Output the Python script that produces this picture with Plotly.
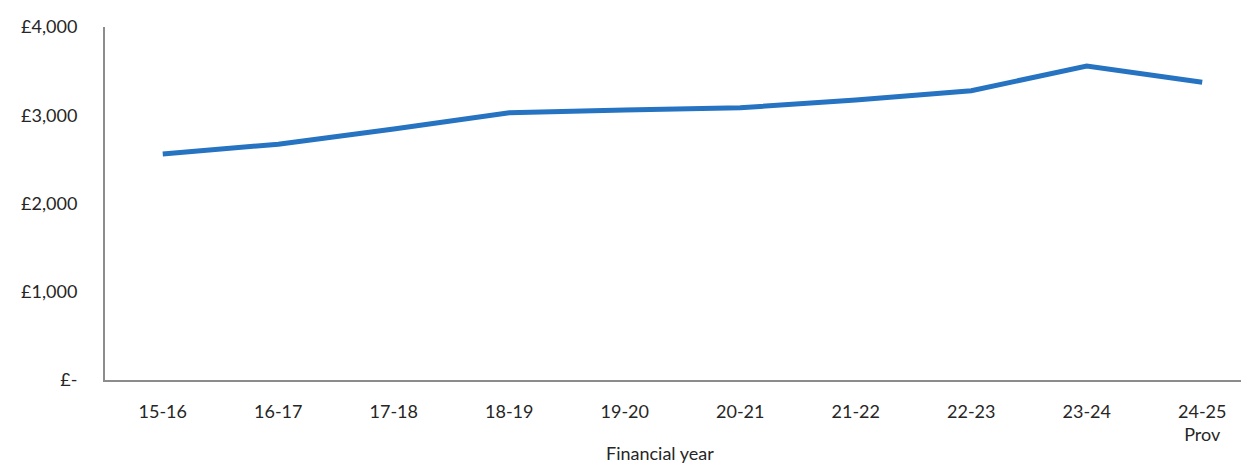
import plotly.graph_objects as go

years = ["15-16", "16-17", "17-18", "18-19", "19-20", "20-21", "21-22", "22-23", "23-24", "24-25<br>Prov"]
values = [2561, 2672, 2845, 3029, 3059, 3085, 3173, 3278, 3558, 3375]
ytick_vals = [0, 1000, 2000, 3000, 4000]
ytick_text = ["£-", "£1,000", "£2,000", "£3,000", "£4,000"]

font_family = "Lato, Open Sans, sans-serif"
text_color = "#262626"
fs = 18

fig = go.Figure()
fig.add_trace(go.Scatter(
    x=list(range(len(years))), y=values, mode="lines",
    line=dict(color="#2673C2", width=5),
    hoverinfo="skip", showlegend=False,
))

fig.update_layout(
    width=1241, height=456,
    margin=dict(l=97, r=0, t=19, b=84),
    paper_bgcolor="white", plot_bgcolor="white",
    font=dict(family=font_family, size=fs, color=text_color),
    xaxis=dict(
        tickmode="array", tickvals=list(range(len(years))), ticktext=years,
        range=[-0.5, 9.405],
        showline=True, linecolor="#8c8c8c", linewidth=2,
        showgrid=False, zeroline=False, ticks="",
        ticklabelstandoff=14,
        tickfont=dict(size=fs, color=text_color),
    ),
    yaxis=dict(
        tickmode="array", tickvals=ytick_vals, ticktext=ytick_text,
        range=[0, 4000],
        showline=True, linecolor="#8c8c8c", linewidth=2,
        showgrid=False, zeroline=False, ticks="",
        ticklabelstandoff=22,
        tickfont=dict(size=fs, color=text_color),
    ),
    annotations=[dict(
        text="Financial year", xref="paper", yref="paper",
        x=0.485, y=-0.207, yanchor="middle", xanchor="center",
        showarrow=False, font=dict(size=fs, color=text_color),
    )],
)

fig.write_html("out.html")
